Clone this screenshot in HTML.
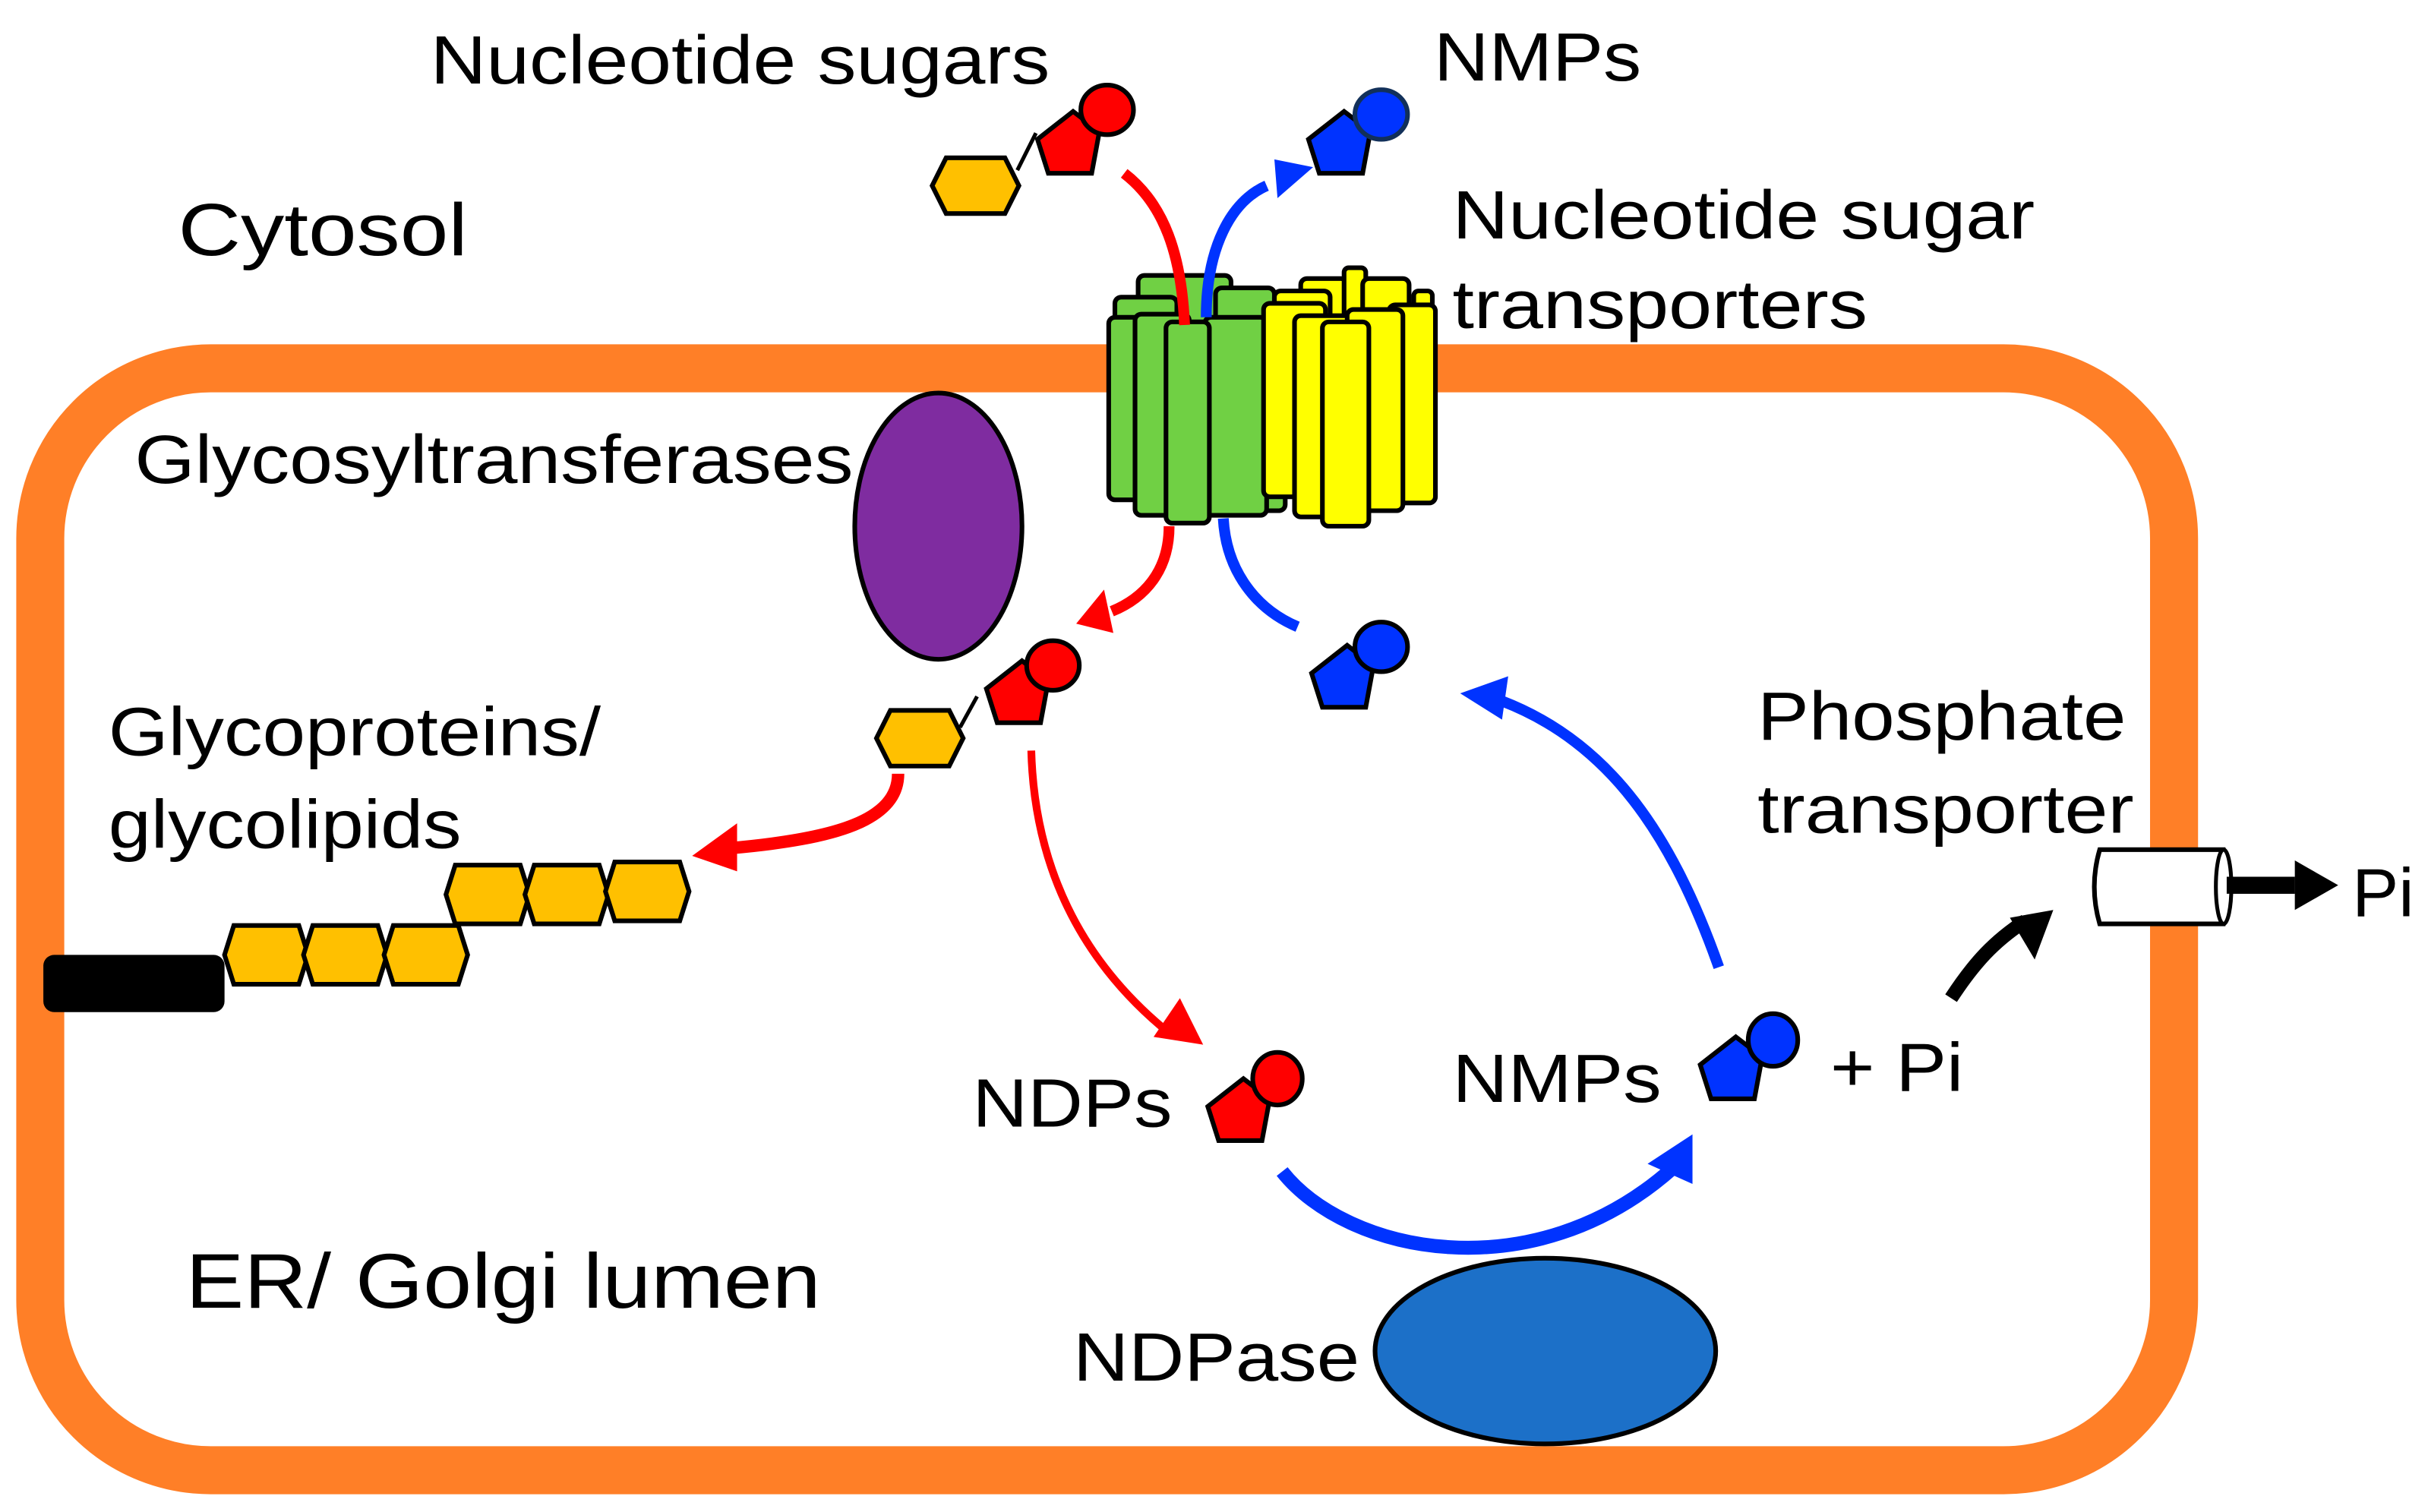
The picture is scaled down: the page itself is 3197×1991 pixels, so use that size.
<!DOCTYPE html>
<html><head><meta charset="utf-8"><style>
html,body{margin:0;padding:0;background:#fff;width:3197px;height:1991px;overflow:hidden}
svg{display:block}
text{font-family:"Liberation Sans",sans-serif;fill:#000}
</style></head><body>
<svg width="3197" height="1991" viewBox="0 0 1568 977" preserveAspectRatio="none" xmlns="http://www.w3.org/2000/svg">
<defs>
<g id="pent"><polygon points="-23,-2 0,-20 17,-7 12,20 -16,20" stroke="#000" stroke-width="3" stroke-linejoin="miter"/></g>
<g id="hex"><polygon points="-28,0 -19,-18 19,-18 28,0 19,18 -19,18" fill="#FFC000" stroke="#000" stroke-width="3"/></g>
<g id="hexv"><polygon points="-27,0 -21,-19 21,-19 27,0 21,19 -21,19" fill="#FFC000" stroke="#000" stroke-width="3"/></g>
</defs>

<!-- membrane -->
<rect x="26" y="238" width="1378" height="712" rx="110" ry="110" fill="none" stroke="#FF7F27" stroke-width="31"/>

<!-- labels -->
<text x="278" y="54" font-size="44" textLength="400" lengthAdjust="spacingAndGlyphs">Nucleotide sugars</text>
<text x="926" y="52" font-size="44" textLength="134" lengthAdjust="spacingAndGlyphs">NMPs</text>
<text x="115" y="165" font-size="48" textLength="187" lengthAdjust="spacingAndGlyphs">Cytosol</text>
<text x="938" y="154" font-size="44" textLength="376" lengthAdjust="spacingAndGlyphs">Nucleotide sugar</text>
<text x="938" y="212" font-size="44" textLength="268" lengthAdjust="spacingAndGlyphs">transporters</text>
<text x="87" y="312" font-size="44" textLength="464" lengthAdjust="spacingAndGlyphs">Glycosyltransferases</text>
<text x="70" y="488" font-size="44" textLength="318" lengthAdjust="spacingAndGlyphs">Glycoproteins/</text>
<text x="70" y="548" font-size="44" textLength="228" lengthAdjust="spacingAndGlyphs">glycolipids</text>
<text x="1135" y="478" font-size="44" textLength="238" lengthAdjust="spacingAndGlyphs">Phosphate</text>
<text x="1135" y="538" font-size="44" textLength="243" lengthAdjust="spacingAndGlyphs">transporter</text>
<text x="1519" y="592" font-size="44" textLength="40" lengthAdjust="spacingAndGlyphs">Pi</text>
<text x="628" y="728" font-size="44" textLength="129" lengthAdjust="spacingAndGlyphs">NDPs</text>
<text x="938" y="712" font-size="44" textLength="135" lengthAdjust="spacingAndGlyphs">NMPs</text>
<text x="1182" y="705" font-size="44" textLength="86" lengthAdjust="spacingAndGlyphs">+ Pi</text>
<text x="120" y="845" font-size="50" textLength="410" lengthAdjust="spacingAndGlyphs">ER/ Golgi lumen</text>
<text x="693" y="892" font-size="44" textLength="185" lengthAdjust="spacingAndGlyphs">NDPase</text>

<!-- enzymes -->
<ellipse cx="606" cy="340" rx="54" ry="86" fill="#7F2CA0" stroke="#000" stroke-width="3"/>
<ellipse cx="998" cy="873" rx="110" ry="60" fill="#1C70C8" stroke="#000" stroke-width="3"/>

<!-- glycan chain -->
<rect x="28" y="617" width="117" height="37" rx="7" fill="#000"/>
<use href="#hexv" x="172" y="617"/>
<use href="#hexv" x="223" y="617"/>
<use href="#hexv" x="275" y="617"/>
<use href="#hexv" x="315" y="578"/>
<use href="#hexv" x="366" y="578"/>
<use href="#hexv" x="418" y="576"/>

<!-- transporters green -->
<g fill="#70D044" stroke="#000" stroke-width="3">
<rect x="735" y="178" width="60" height="30" rx="4"/>
<rect x="720" y="192" width="40" height="130" rx="4"/>
<rect x="785" y="186" width="38" height="136" rx="4"/>
<rect x="716" y="205" width="30" height="118" rx="4"/>
<rect x="795" y="210" width="35" height="120" rx="4"/>
<rect x="733" y="203" width="35" height="130" rx="4"/>
<rect x="778" y="205" width="40" height="128" rx="4"/>
<rect x="753" y="208" width="28" height="130" rx="4"/>
</g>
<!-- transporters yellow -->
<g fill="#FFFF00" stroke="#000" stroke-width="3">
<rect x="840" y="180" width="30" height="30" rx="4"/>
<rect x="868" y="173" width="14" height="40" rx="3"/>
<rect x="880" y="180" width="30" height="30" rx="4"/>
<rect x="823" y="188" width="36" height="30" rx="4"/>
<rect x="913" y="188" width="12" height="30" rx="3"/>
<rect x="816" y="196" width="40" height="125" rx="4"/>
<rect x="897" y="197" width="30" height="128" rx="4"/>
<rect x="836" y="204" width="38" height="130" rx="4"/>
<rect x="870" y="200" width="36" height="130" rx="4"/>
<rect x="854" y="208" width="30" height="132" rx="4"/>
</g>

<!-- arrows -->
<g fill="none" stroke-width="7">
<path d="M726,112 C752,132 763,165 765,210" stroke="#FF0000"/>
<path d="M755,340 C755,368 740,386 718,395" stroke="#FF0000"/>
<path d="M779,205 C779,160 795,130 818,120" stroke="#0033FF"/>
<path d="M790,335 C792,370 812,394 838,405" stroke="#0033FF"/>
<path d="M580,500 C580,530 540,542 472,548" stroke="#FF0000" stroke-width="8"/>
<path d="M666,485 C668,560 698,620 752,665" stroke="#FF0000" stroke-width="5"/>
<path d="M828,757 C870,810 990,835 1080,755" stroke="#0033FF" stroke-width="9"/>
<path d="M1110,625 C1080,540 1040,480 970,453" stroke="#0033FF" stroke-width="7"/>
<path d="M1260,645 C1275,622 1288,608 1308,595" stroke="#000" stroke-width="9"/>
<line x1="1432" y1="572" x2="1482" y2="572" stroke="#000" stroke-width="11"/>
</g>
<g>
<polygon points="695,403 713,381 719,409" fill="#FF0000"/>
<polygon points="848,108 823,103 825,128" fill="#0033FF"/>
<polygon points="447,553 476,532 476,563" fill="#FF0000"/>
<polygon points="777,675 745,670 762,645" fill="#FF0000"/>
<polygon points="1093,733 1093,765 1064,752" fill="#0033FF"/>
<polygon points="943,448 974,437 970,465" fill="#0033FF"/>
<polygon points="1326,588 1298,593 1314,620" fill="#000"/>
<polygon points="1482,556 1510,572 1482,588" fill="#000"/>
</g>

<!-- phosphate transporter cylinder -->
<path d="M1356,549 L1436,549 Q1443,573 1436,597 L1356,597 Q1349,573 1356,549 Z" fill="#fff" stroke="#000" stroke-width="3"/>
<ellipse cx="1436" cy="573" rx="5" ry="24" fill="#fff" stroke="#000" stroke-width="2.5"/>
<line x1="1438" y1="572" x2="1482" y2="572" stroke="#000" stroke-width="11"/>

<!-- nucleotide sugar top -->
<use href="#hex" x="630" y="120"/>
<line x1="657" y1="110" x2="669" y2="86" stroke="#000" stroke-width="2.5"/>
<g fill="#FF0000"><use href="#pent" x="693" y="92"/></g>
<ellipse cx="715" cy="71" rx="17" ry="16" fill="#FF0000" stroke="#000" stroke-width="3"/>

<!-- NMP top -->
<g fill="#0033FF"><use href="#pent" x="868" y="92"/></g>
<ellipse cx="892" cy="74" rx="17" ry="16" fill="#0033FF" stroke="#12305A" stroke-width="3"/>

<!-- lumen nucleotide sugar -->
<use href="#hex" x="594" y="477"/>
<line x1="620" y1="470" x2="631" y2="450" stroke="#000" stroke-width="2.5"/>
<g fill="#FF0000"><use href="#pent" x="660" y="447"/></g>
<ellipse cx="680" cy="430" rx="17" ry="16" fill="#FF0000" stroke="#000" stroke-width="3"/>

<!-- lumen NMP -->
<g fill="#0033FF"><use href="#pent" x="870" y="437"/></g>
<ellipse cx="892" cy="418" rx="17" ry="16" fill="#0033FF" stroke="#000" stroke-width="3"/>

<!-- NDPs -->
<g fill="#FF0000"><use href="#pent" x="803" y="717"/></g>
<ellipse cx="825" cy="697" rx="16" ry="17" fill="#FF0000" stroke="#000" stroke-width="3"/>

<!-- NMPs -->
<g fill="#0033FF"><use href="#pent" x="1121" y="690"/></g>
<ellipse cx="1145" cy="672" rx="16" ry="17" fill="#0033FF" stroke="#000" stroke-width="3"/>
</svg>
</body></html>
